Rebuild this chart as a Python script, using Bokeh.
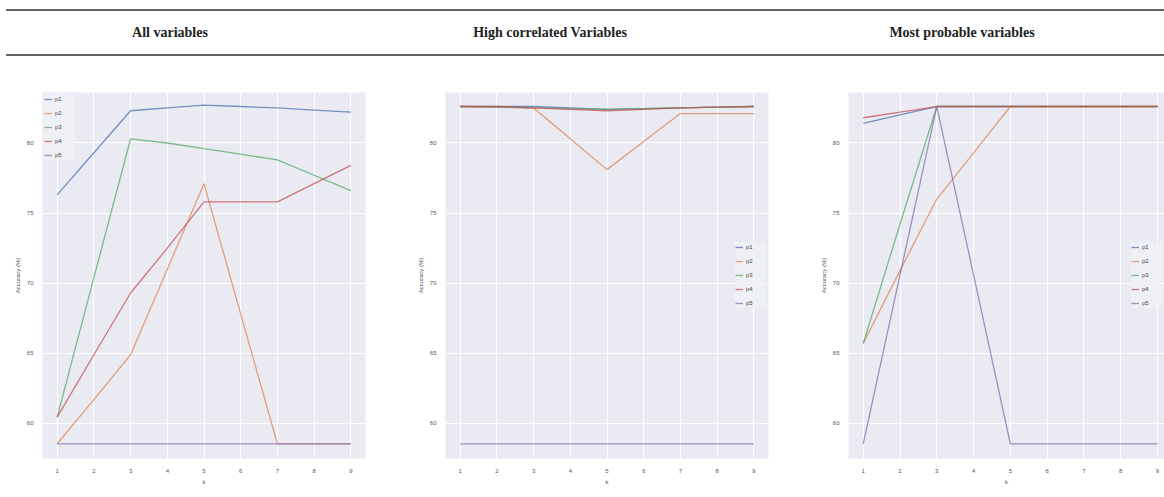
from bokeh.plotting import figure
from bokeh.layouts import column, row
from bokeh.models import Div, Range1d, FixedTicker, Legend, LegendItem
from bokeh.embed import file_html
from bokeh.resources import INLINE

# ---- data ----
k = [1, 2, 3, 4, 5, 6, 7, 8, 9]
series_names = ["p1", "p2", "p3", "p4", "p5"]
y_ticks = [60, 65, 70, 75, 80]
panel_titles = ["All variables", "High correlated Variables", "Most probable variables"]

all_p1 = [76.3, 79.3, 82.3, 82.5, 82.7, 82.6, 82.5, 82.35, 82.2]
all_p2 = [58.55, 61.7, 64.9, 71.0, 77.1, 67.8, 58.55, 58.55, 58.55]
all_p3 = [60.45, 70.4, 80.3, 80.0, 79.6, 79.2, 78.8, 77.7, 76.6]
all_p4 = [60.45, 64.9, 69.3, 72.5, 75.8, 75.8, 75.8, 77.1, 78.4]
all_p5 = [58.55, 58.55, 58.55, 58.55, 58.55, 58.55, 58.55, 58.55, 58.55]

hc_p1 = [82.6, 82.6, 82.6, 82.5, 82.4, 82.45, 82.5, 82.55, 82.6]
hc_p2 = [82.6, 82.55, 82.5, 80.3, 78.1, 80.1, 82.1, 82.1, 82.1]
hc_p3 = [82.6, 82.55, 82.5, 82.45, 82.4, 82.45, 82.5, 82.55, 82.6]
hc_p4 = [82.6, 82.6, 82.5, 82.4, 82.3, 82.4, 82.5, 82.55, 82.6]
hc_p5 = [58.55, 58.55, 58.55, 58.55, 58.55, 58.55, 58.55, 58.55, 58.55]

mp_p1 = [81.4, 82.0, 82.6, 82.6, 82.6, 82.6, 82.6, 82.6, 82.6]
mp_p2 = [65.7, 70.9, 76.0, 79.3, 82.6, 82.6, 82.6, 82.6, 82.6]
mp_p3 = [65.7, 74.2, 82.6, 82.6, 82.6, 82.6, 82.6, 82.6, 82.6]
mp_p4 = [81.8, 82.2, 82.6, 82.6, 82.6, 82.6, 82.6, 82.6, 82.6]
mp_p5 = [58.55, 70.6, 82.6, 70.6, 58.55, 58.55, 58.55, 58.55, 58.55]

colors = ["#4C72B0", "#DD8452", "#55A868", "#C44E52", "#8172B3"]

BG = "#EAEAF2"


def make_panel(data, x_end, fw, left, right, legend_loc):
    p = figure(frame_width=fw, frame_height=366, output_backend="svg",
               toolbar_location=None, x_range=Range1d(0.6, x_end),
               y_range=Range1d(57.5, 83.6),
               min_border_left=left, min_border_right=right,
               min_border_top=30, min_border_bottom=39)
    p.background_fill_color = BG
    p.border_fill_color = "white"
    p.outline_line_color = None
    p.grid.grid_line_color = "white"
    p.grid.grid_line_width = 1
    p.xaxis.ticker = FixedTicker(ticks=k)
    p.yaxis.ticker = FixedTicker(ticks=y_ticks)
    for ax in (p.xaxis, p.yaxis):
        ax.axis_line_color = None
        ax.major_tick_line_color = None
        ax.minor_tick_line_color = None
        ax.major_label_text_font_size = "6px"
        ax.major_label_text_color = "#555555"
        ax.major_label_standoff = 4
        ax.axis_label_text_font_size = "6px"
        ax.axis_label_text_color = "#555555"
        ax.axis_label_text_font_style = "normal"
        ax.axis_label_standoff = 3
    p.yaxis.major_label_standoff = 3
    p.xaxis.axis_label = "k"
    p.yaxis.axis_label = "Accuracy (%)"
    items = []
    for name, ys, c in zip(series_names, data, colors):
        r = p.line(k, ys, line_color=c, line_width=1.3, line_alpha=0.75)
        items.append(LegendItem(label=name, renderers=[r]))
    leg = Legend(items=items, location=legend_loc)
    leg.label_text_font_size = "6px"
    leg.label_text_color = "#444444"
    leg.glyph_width = 8
    leg.glyph_height = 10
    leg.label_height = 10
    leg.spacing = 4
    leg.padding = 3
    leg.margin = 2
    leg.label_standoff = 3
    leg.background_fill_color = "#F0F0F6"
    leg.background_fill_alpha = 0.8
    leg.border_line_color = None
    p.add_layout(leg)
    return p


p1 = make_panel([all_p1, all_p2, all_p3, all_p4, all_p5], 9.4, 323, 42, 35, "top_left")
p2 = make_panel([hc_p1, hc_p2, hc_p3, hc_p4, hc_p5], 9.4, 323, 45, 32, "right")
p3 = make_panel([mp_p1, mp_p2, mp_p3, mp_p4, mp_p5], 9.19, 316, 48, 0, "right")

centers = [170, 550, 962]
title_html = ""
for t, cx in zip(panel_titles, centers):
    title_html += ('<div style="position:absolute;top:23px;left:%dpx;width:300px;'
                   'text-align:center;font-family:\'Liberation Serif\',serif;'
                   'font-weight:bold;font-size:14px;color:#222;">%s</div>' % (cx - 150 - 6, t))
html = ('<div style="position:relative;width:1158px;height:62px;margin-left:6px;">'
        '<div style="position:absolute;top:9px;left:0;width:1158px;border-top:2px solid #666;"></div>'
        + title_html +
        '<div style="position:absolute;top:54px;left:0;width:1158px;border-top:2px solid #666;"></div>'
        '</div>')
header = Div(text=html, width=1164, height=62, margin=0)

layout = column(header, row(p1, p2, p3, spacing=0), spacing=0)

open("out.html", "w").write(file_html(layout, INLINE))
